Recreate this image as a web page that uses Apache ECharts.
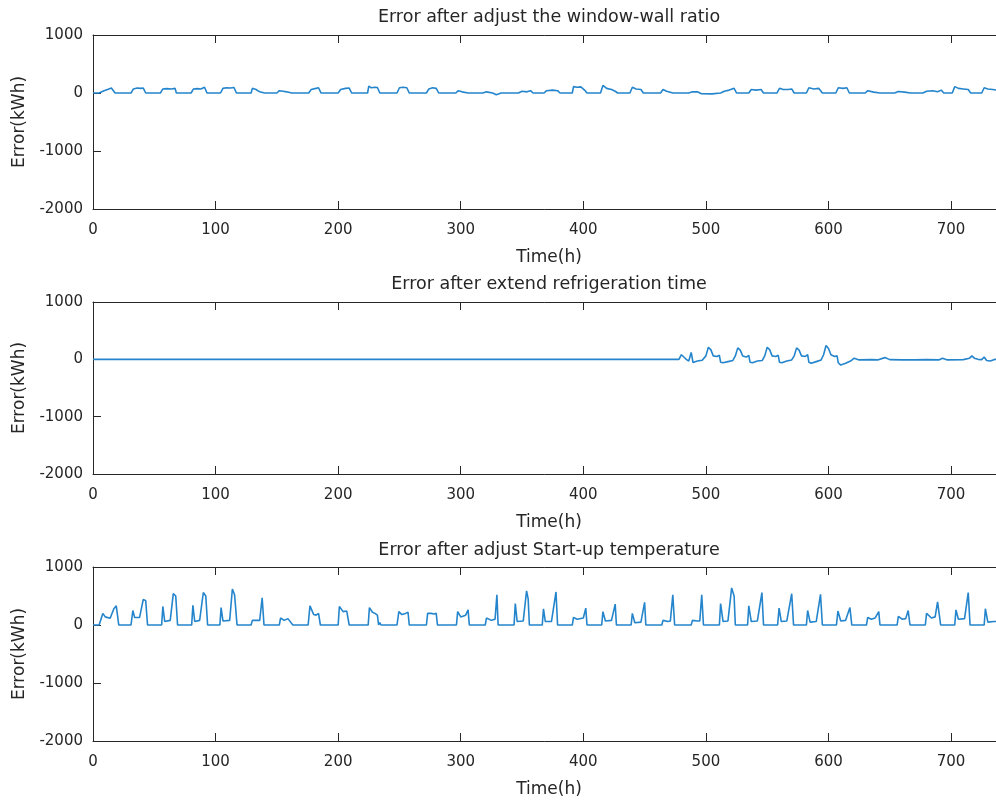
<!DOCTYPE html>
<html>
<head>
<meta charset="utf-8">
<title>Error</title>
<script src="https://cdn.jsdelivr.net/npm/echarts@6/dist/echarts.min.js"></script>
<style>
  html, body { margin: 0; padding: 0; background: #fff; }
  #main { width: 996px; height: 805px; }
</style>
</head>
<body>
<div id="main"></div>
<script>
// [hour, error kWh]
const windowWallErr = [
  [0,0],[5,0],[9,40],[13,70],[15,85],[16,60],[18,0],
  [31,0],[33,70],[36,85],[39,80],[41,85],[43,0],
  [55,0],[57,70],[60,75],[64,70],[67,80],[68,0],
  [80,0],[82,70],[85,75],[88,70],[91,100],[93,0],
  [104,0],[106,80],[109,90],[112,85],[115,95],[117,0],
  [129,0],[130,80],[133,60],[136,20],[140,0],
  [150,0],[152,40],[155,30],[158,20],[162,0],
  [176,0],[178,60],[182,80],[184,90],[186,0],
  [200,0],[202,60],[206,80],[209,85],[211,0],
  [224,0],[225,120],[227,90],[230,100],[232,95],[234,0],
  [248,0],[250,90],[253,100],[256,90],[258,0],
  [272,0],[274,70],[277,90],[280,80],[282,0],
  [296,0],[298,40],[301,20],[306,0],[318,0],[321,20],[326,0],[329,-30],[333,0],
  [347,0],[350,30],[354,20],[357,40],[359,0],
  [368,0],[370,40],[375,50],[379,40],[381,0],
  [391,0],[392,110],[395,100],[398,105],[401,50],[403,0],
  [414,0],[416,130],[419,80],[423,60],[426,30],[428,0],
  [438,0],[440,100],[443,70],[447,60],[449,0],
  [463,0],[465,60],[468,30],[473,0],
  [486,0],[489,20],[493,20],[496,-10],[505,-15],[512,0],
  [515,30],[519,50],[523,80],[525,0],
  [535,0],[537,60],[541,50],[545,60],[547,0],
  [558,0],[560,80],[563,60],[567,60],[570,70],[572,0],
  [582,0],[584,90],[588,70],[592,80],[595,0],
  [606,0],[608,90],[612,80],[615,90],[617,0],
  [630,0],[632,40],[637,15],[642,0],
  [654,0],[657,25],[662,15],[667,0],
  [677,0],[680,30],[685,40],[689,20],[692,50],[694,0],
  [701,0],[703,110],[706,80],[710,70],[714,60],[716,0],
  [725,0],[727,90],[730,70],[734,60],[737,50],[740,0],[744,0]
];

const refrigErr = [
  [0,0],[478,0],[480,80],[482,40],[484,0],[486,-30],[487,-40],[488,120],[489.5,-55],[493,-30],[497,-15],
  [500,60],[502,210],[504,170],[506,60],[509,50],[511,70],[512,-50],[514,-60],[518,-40],[522,-20],
  [524,60],[526,200],[528,160],[530,60],[533,40],[535,70],[536,-50],[538,-60],[542,-30],[546,-20],
  [548,60],[550,210],[552,170],[554,60],[557,50],[559,70],[560,-50],[562,-60],[566,-30],[570,-10],
  [572,60],[574,200],[576,160],[578,60],[581,50],[583,80],[584,-50],[586,-70],[590,-40],[594,-10],
  [596,80],[598,240],[600,190],[602,80],[605,50],[607,60],[608,-60],[610,-100],[614,-70],[618,-30],
  [621,20],[625,-10],[635,-5],[640,-10],[646,30],[650,-5],[660,-10],[670,-10],[680,-5],[690,-10],
  [693,20],[697,-10],[710,-5],[715,20],[717,60],[719,20],[722,0],[725,-5],[727,40],[729,-20],[732,-30],
  [736,0],[744,0]
];

const startupErr = [
  [0,0],[5,0],[8,200],[10,140],[14,115],[17,280],[19,330],[20,300],[21,0],
  [31,0],[32.5,250],[34,130],[38,130],[41,440],[43,420],[44.5,0],
  [56,0],[57,320],[58.5,60],[63,80],[65.5,540],[67.5,500],[69,0],
  [80.5,0],[81.5,340],[83,60],[87,80],[90,560],[92,500],[93.5,0],
  [103.5,0],[104.5,300],[106,70],[111.5,80],[113.7,620],[115.5,520],[117.5,0],
  [129,0],[130,80],[136,80],[138,470],[139.5,0],
  [152,0],[153,120],[156,80],[159,110],[163,0],
  [175.5,0],[177,330],[180,180],[182,170],[184,200],[185.5,0],
  [200,0],[201,320],[204,230],[207,240],[209,0],
  [224.5,0],[225.5,300],[228,220],[230,200],[232,170],[233,0],[234,40],[235,0],
  [248,0],[249.5,230],[252,180],[255,200],[257,220],[258,0],
  [272,0],[273,200],[276,200],[278,190],[280,200],[281,0],
  [296.5,0],[297.5,230],[300,140],[304,170],[306,260],[307,0],
  [320,0],[321,120],[325,80],[328,100],[329.5,520],[330.5,0],
  [343.5,0],[344.5,370],[346,60],[351,70],[353.7,590],[355,450],[356,0],
  [366.5,0],[367.5,280],[369,60],[374,60],[377.7,570],[379,0],
  [391,0],[392,130],[395,100],[400,120],[402,290],[403,0],
  [415,0],[416,230],[418,70],[423,80],[426,360],[427,0],
  [439,0],[440,200],[442,40],[447,50],[450,390],[451,0],
  [464,0],[465,80],[469,60],[471,70],[473,520],[474.5,0],
  [488,0],[489,80],[493,70],[495,70],[496.6,520],[498,0],
  [511,0],[512,370],[514,60],[518,70],[521,640],[523,500],[524,0],
  [534,0],[535,330],[537,60],[542,70],[545.7,560],[547,0],
  [558.5,0],[559.7,290],[561.5,60],[566,70],[570,540],[571.5,0],
  [582,0],[583,250],[585,50],[590,60],[593.5,530],[595,0],
  [606.5,0],[607.7,240],[610,70],[614,80],[617.5,300],[619,0],
  [631,0],[632,130],[635,100],[638,120],[641,230],[642,0],
  [656,0],[657,150],[660,100],[663,110],[665,250],[666.5,0],
  [679,0],[680,200],[684,120],[687,140],[689,400],[690.5,370],[691.5,0],
  [703,0],[704,260],[706,100],[711,110],[714,560],[715.5,0],
  [727,0],[728,280],[730,50],[735,60],[738,60],[744,0]
];

const titles = [
  'Error after adjust the window-wall ratio',
  'Error after extend refrigeration time',
  'Error after adjust Start-up temperature'
];
const seriesData = [windowWallErr, refrigErr, startupErr];

const ink = '#262626';
const font = 'DejaVu Sans';
const gridTops = [35, 302, 567];
const gridHeights = [174, 172, 174];
const titleTops = [8, 275, 541];

var chart = echarts.init(document.getElementById('main'), null, { renderer: 'canvas' });

var grid = [], xAxis = [], yAxis = [], series = [], title = [];
for (let i = 0; i < 3; i++) {
  // plot box runs past the right edge of the canvas, as in the picture
  grid.push({ left: 93, top: gridTops[i], width: 912, height: gridHeights[i], containLabel: false, outerBoundsMode: 'none' });
  title.push({
    text: titles[i], left: 549, top: titleTops[i], textAlign: 'center', padding: 0,
    textStyle: { fontSize: 17.5, fontWeight: 'normal', color: ink, fontFamily: font }
  });
  var tickStyle = { show: true, inside: true, length: 8, lineStyle: { color: ink, width: 1 } };
  var lineStyle = { show: true, onZero: false, lineStyle: { color: ink, width: 1 } };
  // bottom + top x axes (box with inward ticks)
  xAxis.push({
    type: 'value', gridIndex: i, position: 'bottom', min: 0, max: 744, interval: 100,
    axisLine: lineStyle, axisTick: tickStyle, splitLine: { show: false },
    axisLabel: { color: ink, fontSize: 15, fontFamily: font, margin: 14, showMaxLabel: false },
    name: 'Time(h)', nameLocation: 'middle', nameGap: 40,
    nameTextStyle: { color: ink, fontSize: 17, fontFamily: font }
  });
  xAxis.push({
    type: 'value', gridIndex: i, position: 'top', min: 0, max: 744, interval: 100,
    axisLine: lineStyle, axisTick: tickStyle, splitLine: { show: false },
    axisLabel: { show: false }
  });
  // left + right y axes
  yAxis.push({
    type: 'value', gridIndex: i, position: 'left', min: -2000, max: 1000, interval: 1000,
    axisLine: lineStyle, axisTick: tickStyle, splitLine: { show: false },
    axisLabel: { color: ink, fontSize: 15, fontFamily: font, margin: 10, formatter: function (v) { return String(v); } },
    name: 'Error(kWh)', nameLocation: 'middle', nameGap: 56,
    nameTextStyle: { color: ink, fontSize: 17, fontFamily: font }
  });
  yAxis.push({
    type: 'value', gridIndex: i, position: 'right', min: -2000, max: 1000, interval: 1000,
    axisLine: lineStyle, axisTick: tickStyle, splitLine: { show: false },
    axisLabel: { show: false }
  });
  series.push({
    type: 'line', xAxisIndex: i * 2, yAxisIndex: i * 2,
    data: seriesData[i], showSymbol: false, silent: true, animation: false,
    lineStyle: { color: '#2585cc', width: 1.6 }
  });
}

chart.setOption({
  backgroundColor: '#ffffff',
  animation: false,
  title: title,
  grid: grid,
  xAxis: xAxis,
  yAxis: yAxis,
  series: series
});
</script>
</body>
</html>
